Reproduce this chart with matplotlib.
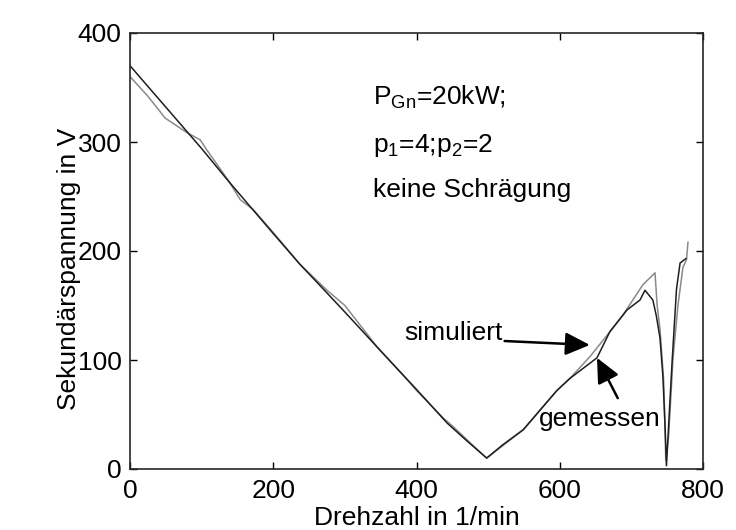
import matplotlib
matplotlib.use("Agg")
import matplotlib.pyplot as plt

plt.rcParams['font.family'] = ['Liberation Sans', 'DejaVu Sans']
plt.rcParams['mathtext.fontset'] = 'custom'
plt.rcParams['mathtext.rm'] = 'Liberation Sans'
plt.rcParams['mathtext.it'] = 'Liberation Sans'

# dark curve (gemessen)
dark_x = [0, 50, 100, 135, 200, 237, 270, 300, 349, 400, 443, 470, 498,
          520, 549, 596, 614, 652, 670, 694, 712, 719, 730, 735, 740, 744,
          747, 749, 752, 757, 763, 768, 776]
dark_y = [370, 332, 294, 266, 216, 188, 165, 144, 109, 73, 42, 26, 10,
          22, 36, 72, 83, 102, 126, 146, 155, 164, 155, 140, 120, 85,
          40, 3, 40, 100, 165, 189, 193]

# gray curve (simuliert)
gray_x = [0, 25, 49, 74, 81, 98, 107, 137, 154, 172, 200, 237, 275, 300,
          345, 387, 400, 409, 437, 451, 475, 498, 549, 596, 614, 642, 675,
          688, 716, 733, 736, 740, 745, 747, 748, 752, 758, 765, 772, 777, 779]
gray_y = [360, 342, 322, 311, 308, 302, 293, 265, 247, 238, 217, 188, 164, 150,
          112, 82, 72, 66, 47, 39, 24, 10, 36, 72, 83, 103, 130,
          141, 169, 180, 150, 128, 82, 36, 8, 30, 100, 150, 185, 192, 208]

xticks = [0, 200, 400, 600, 800]
yticks = [0, 100, 200, 300, 400]

fig = plt.figure(figsize=(7.36, 5.30), dpi=100)
ax = fig.add_axes([130/736, 1-469/530, 573/736, 436/530])

ax.plot(gray_x, gray_y, color='#8a8a8a', lw=1.1)
ax.plot(dark_x, dark_y, color='#1e1e1e', lw=1.1)

ax.set_xlim(0, 800)
ax.set_ylim(0, 400)
ax.set_xticks(xticks)
ax.set_yticks(yticks)
ax.tick_params(direction='in', length=5, width=1, top=True, right=True,
               labelsize=19)
ax.tick_params(axis='x', pad=7)
ax.tick_params(axis='y', pad=6)
for s in ax.spines.values():
    s.set_color('#262626')
    s.set_linewidth(1.2)

ax.set_xlabel('Drehzahl in 1/min', fontsize=19)
ax.set_ylabel('Sekundärspannung in V', fontsize=19)
ax.xaxis.set_label_coords(0.5, -0.085)
ax.yaxis.set_label_coords(-0.085, 0.46)

ax.text(339, 341, r'P$_{\mathrm{Gn}}$=20kW;', fontsize=19, va='center', ha='left')
ax.text(339, 297, r'p$_{\mathrm{1}}$=4;p$_{\mathrm{2}}$=2', fontsize=19, va='center', ha='left')
ax.text(339, 256, 'keine Schrägung', fontsize=19, va='center', ha='left')

arrow_style = '-|>,head_length=0.75,head_width=0.35'
ax.text(521, 125, 'simuliert', fontsize=19, va='center', ha='right')
ax.annotate('', xy=(642, 113.8), xytext=(523, 117.4),
            arrowprops=dict(arrowstyle=arrow_style,
                            color='k', lw=1.8, mutation_scale=20,
                            shrinkA=0, shrinkB=0))
ax.text(571, 46, 'gemessen', fontsize=19, va='center', ha='left')
ax.annotate('', xy=(652, 102), xytext=(681, 65),
            arrowprops=dict(arrowstyle=arrow_style,
                            color='k', lw=1.8, mutation_scale=20,
                            shrinkA=0, shrinkB=0))

fig.savefig('out.png', dpi=100, facecolor='white')
